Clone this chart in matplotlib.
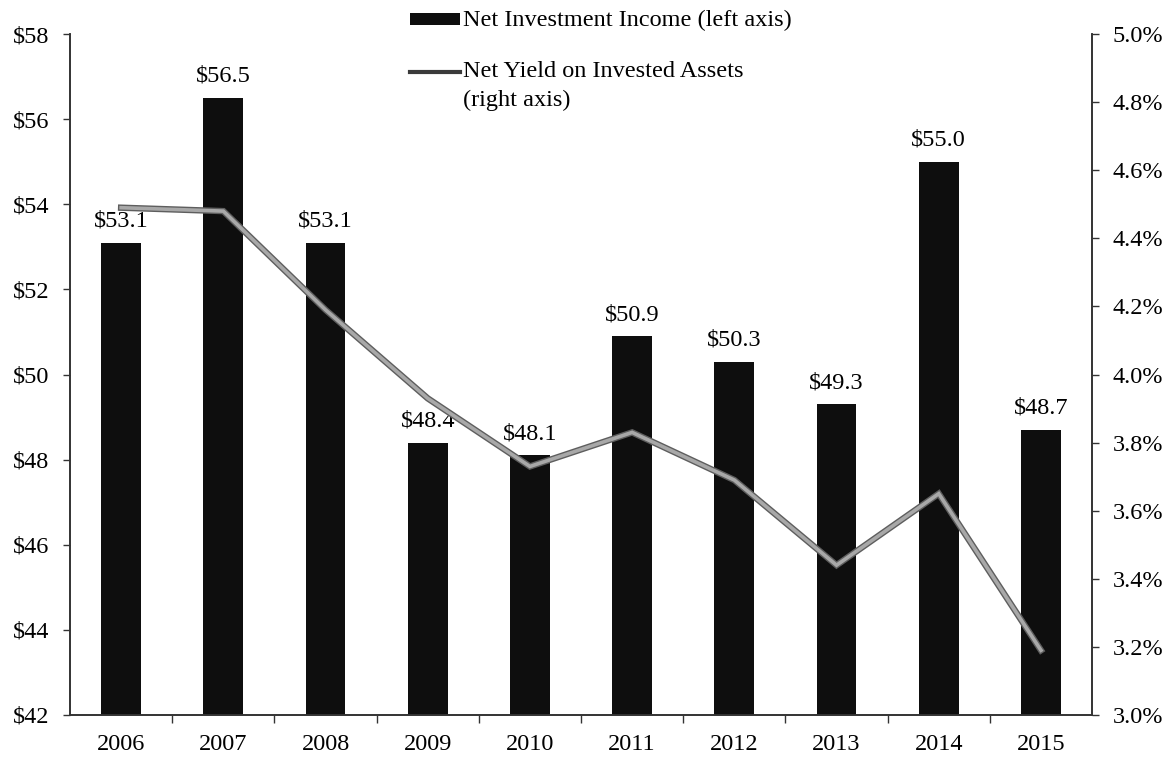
import matplotlib
matplotlib.use("Agg")
import matplotlib.pyplot as plt
import matplotlib.patheffects as pe
from matplotlib.patches import Rectangle
from matplotlib.lines import Line2D
from matplotlib.ticker import FuncFormatter, FixedLocator

# Net investment income ($) and net yield on invested assets (%)
years = ["2006", "2007", "2008", "2009", "2010", "2011", "2012", "2013", "2014", "2015"]
income = [53.1, 56.5, 53.1, 48.4, 48.1, 50.9, 50.3, 49.3, 55.0, 48.7]
net_yield = [4.49, 4.48, 4.19, 3.93, 3.73, 3.83, 3.69, 3.44, 3.65, 3.19]

plt.rcParams["font.family"] = ["Liberation Serif", "DejaVu Serif"]
FS = 17.5

fig = plt.figure(figsize=(11.73, 7.57), dpi=100)
ax = fig.add_axes([0.0597, 0.0555, 0.8713, 0.8995])

x = list(range(len(years)))
bars = ax.bar(x, income, width=0.39, color="#0e0e0e", zorder=2)
for xi, v in zip(x, income):
    ax.annotate(f"${v:.1f}", (xi, v), xytext=(0, 11.5), textcoords="offset points",
                ha="center", va="baseline", fontsize=FS)

ax.set_xlim(-0.5, len(years) - 0.5)
ax.set_ylim(42, 58)
ax.set_yticks(range(42, 59, 2))
ax.yaxis.set_major_formatter(FuncFormatter(lambda v, _: f"${v:.0f}"))
ax.set_xticks(x)
ax.set_xticklabels(years)
ax.xaxis.set_minor_locator(FixedLocator([i + 0.5 for i in x[:-1]]))
ax.tick_params(axis="x", which="major", length=0, pad=14, labelsize=FS)
ax.tick_params(axis="x", which="minor", length=6, width=1, direction="out", color="#333333")
ax.tick_params(axis="y", length=5, width=1, pad=10, labelsize=FS, color="#333333")
ax.spines["top"].set_visible(False)
for s in ("left", "right", "bottom"):
    ax.spines[s].set_color("#333333")
    ax.spines[s].set_linewidth(1.2)

ax2 = ax.twinx()
ax2.plot(x, net_yield, color="#a8a8a8", lw=2.6, solid_joinstyle="miter", zorder=3,
         path_effects=[pe.Stroke(linewidth=4.6, foreground="#5e5e5e"), pe.Normal()])
ax2.set_ylim(3.0, 5.0)
ax2.set_yticks([3.0 + 0.2 * i for i in range(11)])
ax2.yaxis.set_major_formatter(FuncFormatter(lambda v, _: f"{v:.1f}%"))
ax2.tick_params(axis="y", length=5, width=1, pad=10, labelsize=FS, color="#333333")
ax2.spines["top"].set_visible(False)
for s in ("left", "right", "bottom"):
    ax2.spines[s].set_color("#333333")
    ax2.spines[s].set_linewidth(1.2)

# legend drawn by hand at the top of the figure
fig.add_artist(Rectangle((0.3495, 0.967), 0.0426, 0.0159, transform=fig.transFigure,
                         facecolor="#0e0e0e", edgecolor="none"))
fig.text(0.3947, 0.9736, "Net Investment Income (left axis)", fontsize=FS, va="center", ha="left")
fig.add_artist(Line2D([0.3495, 0.3921], [0.9049, 0.9049], transform=fig.transFigure,
                      color="#3a3a3a", lw=3))
fig.text(0.3947, 0.9049, "Net Yield on Invested Assets", fontsize=FS, va="center", ha="left")
fig.text(0.3947, 0.8679, "(right axis)", fontsize=FS, va="center", ha="left")

fig.savefig("out.png", dpi=100)
